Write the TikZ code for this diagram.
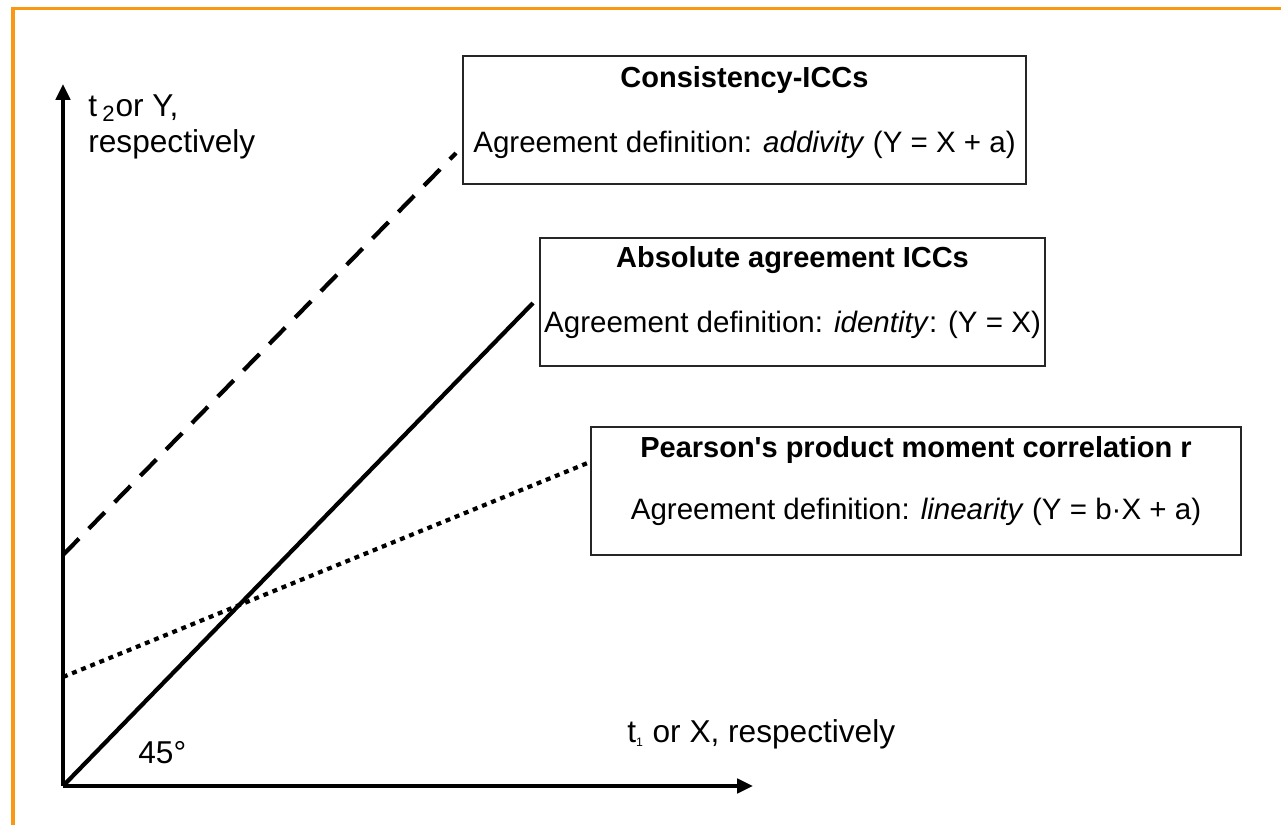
\documentclass[tikz,border=0pt]{standalone}
\usepackage{fontspec}
\setmainfont{Liberation Sans}
\usetikzlibrary{arrows.meta,calc}
\definecolor{frameorange}{RGB}{250,152,20}
\begin{document}
\begin{tikzpicture}[x=0.02cm,y=-0.02cm,
  axis/.style={line width=2.3pt,-{Triangle[length=9pt,width=8pt]}},
  fit line/.style={line width=2.4pt},
  defbox/.style={draw=black!85,line width=0.85pt,minimum height=2.56cm,inner sep=0pt},
  boxtitle/.style={font=\fontsize{16.5}{19}\selectfont\bfseries},
  boxtext/.style={font=\fontsize{16.8}{19}\selectfont},
  axlabel/.style={font=\fontsize{18}{17.5}\selectfont,align=left,inner sep=0pt}]
\useasboundingbox (0,0) rectangle (1281,825);
% frame
\draw[frameorange,line width=2pt] (13,825) -- (13,8.5) -- (1281,8.5);
% axes
\coordinate (o) at (63,786);
\coordinate (ytop) at (63,84);
\coordinate (xend) at (753,786);
\draw[axis] (o) -- (ytop);
\draw[axis] (o) -- (xend);
\node[axlabel,anchor=north west] (ylab) at (88,94) {t\,\textsubscript{2}or Y,\\[3pt]respectively};
\node[axlabel,anchor=west] (xlab) at (627,734) {t\textsubscript{\scriptsize 1} or X, respectively};
\node[axlabel,anchor=west] (angle) at (138,753) {45°};
% boxes
\node[defbox,minimum width=11.26cm] (cons) at (744.5,120) {};
\node[boxtitle] (cons-t) at ($(cons.north)+(0,25)$) {Consistency-ICCs};
\node[boxtext] (cons-d) at ($(cons.north)+(0,90)$) {Agreement definition: \textit{addivity} (Y = X + a)};
\node[defbox,minimum width=10.1cm] (abs) at (792.5,302) {};
\node[boxtitle] (abs-t) at ($(abs.north)+(0,23)$) {Absolute agreement ICCs};
\node[boxtext] (abs-d) at ($(abs.north)+(0,88)$) {Agreement definition: \textit{identity}: (Y = X)};
\node[defbox,minimum width=13cm] (pear) at (916,491) {};
\node[boxtitle] (pear-t) at ($(pear.north)+(0,24)$) {Pearson\textquotesingle s product moment correlation r};
\node[boxtext] (pear-d) at ($(pear.north)+(0,86)$) {Agreement definition: \textit{linearity} (Y = b·X + a)};
% lines
\coordinate (c0) at (63,555);
\coordinate (c1) at (456,153);
\coordinate (a1) at (533,303);
\coordinate (p0) at (63,677);
\coordinate (p1) at (590,462);
\draw[fit line,dash pattern=on 13pt off 8pt] (c0) -- (c1);
\draw[fit line] (o) -- (a1);
\draw[fit line,dash pattern=on 2.8pt off 2.8pt] (p0) -- (p1);
\end{tikzpicture}
\end{document}
